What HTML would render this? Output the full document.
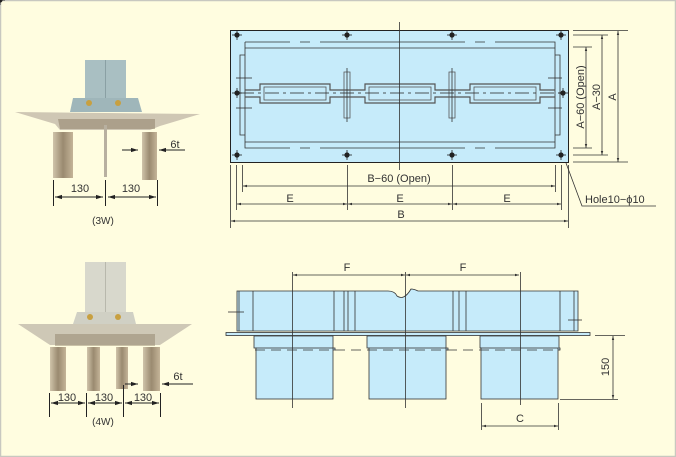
<!DOCTYPE html>
<html><head><meta charset="utf-8"><style>
html,body{margin:0;padding:0;background:#fffde0}
svg{display:block}
text{font-family:"Liberation Sans",sans-serif;fill:#333}
</style></head><body>
<svg width="676" height="457" viewBox="0 0 676 457" xmlns="http://www.w3.org/2000/svg">
<defs>
<marker id="a" viewBox="0 0 10 10" refX="10" refY="5" markerWidth="7" markerHeight="7" orient="auto-start-reverse"><path d="M0,2 L10,5 L0,8z" fill="#222"/></marker>
<marker id="s" viewBox="0 0 10 10" refX="10" refY="5" markerWidth="5" markerHeight="5" orient="auto-start-reverse"><path d="M0,2 L10,5 L0,8z" fill="#333"/></marker>
<linearGradient id="cu" x1="0" x2="1"><stop offset="0" stop-color="#d0c4aa"/><stop offset=".5" stop-color="#9a8a70"/><stop offset="1" stop-color="#c4b498"/></linearGradient>
</defs>
<rect x="0.5" y="0.5" width="675" height="456" fill="#fffde0" stroke="#c8c8c0" stroke-width="1.5"/>

<!-- 3W photo -->
<rect x="85" y="60" width="41" height="38" fill="#a9bfc2"/>
<line x1="105.5" y1="60" x2="105.5" y2="98" stroke="#8aa0a4"/>
<path d="M73,98 L138,98 L142,112 L70,112z" fill="#9fb6ba"/>
<circle cx="89" cy="103" r="3" fill="#c8a040"/><circle cx="118" cy="103" r="3" fill="#c8a040"/>
<path d="M15,112 L200,114 L160,126 L150,130 L60,130 L55,124z" fill="#cfc7b4"/>
<path d="M58,119 L155,119 L155,129 L60,129z" fill="#8a7a62" opacity=".5"/>
<rect x="53" y="132" width="20" height="46" fill="url(#cu)"/>
<rect x="142" y="132" width="15" height="48" fill="url(#cu)"/>
<rect x="104" y="125" width="3" height="52" fill="#b8b0a0"/>
<g stroke="#222" stroke-width="1" fill="none">
<line x1="53.5" y1="180" x2="53.5" y2="206"/><line x1="105.5" y1="180" x2="105.5" y2="206"/><line x1="157.5" y1="180" x2="157.5" y2="206"/>
<line x1="55" y1="197" x2="103" y2="197" marker-start="url(#a)" marker-end="url(#a)"/>
<line x1="108" y1="197" x2="156" y2="197" marker-start="url(#a)" marker-end="url(#a)"/>
<line x1="122" y1="150" x2="138" y2="150" marker-end="url(#a)"/>
<line x1="185" y1="150" x2="159" y2="150" marker-end="url(#a)"/>
</g>
<text x="80" y="192" font-size="11" text-anchor="middle">130</text>
<text x="131" y="192" font-size="11" text-anchor="middle">130</text>
<text x="175" y="148" font-size="11" text-anchor="middle">6t</text>
<text x="103" y="224" font-size="10" text-anchor="middle">(3W)</text>

<!-- 4W photo -->
<rect x="85" y="262" width="41" height="52" fill="#d8d8cc"/>
<line x1="105.5" y1="262" x2="105.5" y2="314" stroke="#b8b8ac"/>
<path d="M77,312 L133,312 L136,324 L73,324z" fill="#d0d0c4"/>
<circle cx="90" cy="317" r="3" fill="#c8a040"/><circle cx="118" cy="317" r="3" fill="#c8a040"/>
<path d="M18,324 L192,324 L160,345 L50,345z" fill="#cec8b6"/>
<path d="M55,334 L155,334 L155,346 L55,346z" fill="#8a7a62" opacity=".45"/>
<rect x="50" y="347" width="16" height="44" fill="url(#cu)"/>
<rect x="87" y="347" width="13" height="44" fill="url(#cu)"/>
<rect x="116" y="347" width="12" height="42" fill="url(#cu)"/>
<rect x="143" y="347" width="17" height="44" fill="url(#cu)"/>
<g stroke="#222" stroke-width="1" fill="none">
<line x1="49.5" y1="393" x2="49.5" y2="417"/><line x1="86.5" y1="393" x2="86.5" y2="417"/><line x1="123.5" y1="385" x2="123.5" y2="417"/><line x1="160.5" y1="393" x2="160.5" y2="417"/>
<line x1="51" y1="403" x2="85" y2="403" marker-start="url(#a)" marker-end="url(#a)"/>
<line x1="88" y1="403" x2="122" y2="403" marker-start="url(#a)" marker-end="url(#a)"/>
<line x1="125" y1="403" x2="159" y2="403" marker-start="url(#a)" marker-end="url(#a)"/>
<line x1="125" y1="384" x2="138" y2="384" marker-end="url(#a)"/>
<line x1="193" y1="384" x2="162" y2="384" marker-end="url(#a)"/>
</g>
<text x="67" y="401" font-size="11" text-anchor="middle">130</text>
<text x="104" y="401" font-size="11" text-anchor="middle">130</text>
<text x="143" y="401" font-size="11" text-anchor="middle">130</text>
<text x="178" y="380" font-size="11" text-anchor="middle">6t</text>
<text x="103" y="425" font-size="10" text-anchor="middle">(4W)</text>

<!-- top right plan -->
<rect x="230.5" y="30.5" width="338" height="132" fill="#c6ebfa" stroke="#222"/>
<g stroke="#333" stroke-width="0.8" fill="none">
<path d="M245,42 H290 M300,42 H310 M320,42 H465 M475,42 H485 M495,42 H555 V148 H495 M485,148 H475 M465,148 H320 M310,148 H300 M290,148 H245 V42"/>
<line x1="245" y1="48" x2="555" y2="48"/><line x1="245" y1="142" x2="555" y2="142"/>
<path d="M245,55 h-5 v80 h5 M555,55 h5 v80 h-5"/>
<path d="M245,90 H260 V84 H330 V90 H365 V84 H435 V90 H470 V84 H540 V90 H555 M245,97 H260 V103 H330 V97 H365 V103 H435 V97 H470 V103 H540 V97 H555" stroke="#555" stroke-width="1.2"/>
<rect x="264" y="87" width="62" height="13" stroke="#555"/>
<rect x="369" y="87" width="62" height="13" stroke="#555"/>
<rect x="474" y="87" width="62" height="13" stroke="#555"/>
<path d="M344,72 h6 v46 h-6z M449,72 h6 v46 h-6z" stroke="#555"/>
<line x1="347" y1="68" x2="347" y2="122"/><line x1="452" y1="68" x2="452" y2="122"/>
<line x1="240" y1="93" x2="560" y2="93" stroke-dasharray="14,4,3,4" stroke="#222"/>
<line x1="236" y1="78" x2="252" y2="78"/><line x1="236" y1="108" x2="252" y2="108"/>
<line x1="548" y1="78" x2="562" y2="78"/><line x1="548" y1="108" x2="562" y2="108"/>
</g>
<line x1="399.5" y1="22" x2="399.5" y2="170" stroke="#333" stroke-width="0.8"/>
<g fill="#222" stroke="#222" stroke-width="0.8">
<g id="h"><circle r="2.2"/><line x1="-5" x2="5"/><line y1="-5" y2="5"/></g>
<use href="#h" x="237" y="35"/><use href="#h" x="347" y="35"/><use href="#h" x="452" y="35"/><use href="#h" x="561" y="35"/>
<use href="#h" x="237" y="155"/><use href="#h" x="347" y="155"/><use href="#h" x="452" y="155"/><use href="#h" x="561" y="155"/>
<use href="#h" x="237" y="93"/><use href="#h" x="563" y="93"/>
</g>
<g stroke="#333" stroke-width="0.8" fill="none">
<line x1="573" y1="30.5" x2="628" y2="30.5"/><line x1="573" y1="35" x2="608" y2="35"/><line x1="573" y1="47" x2="592" y2="47"/>
<line x1="573" y1="148" x2="592" y2="148"/><line x1="573" y1="155" x2="608" y2="155"/><line x1="573" y1="162" x2="628" y2="162"/>
<line x1="586" y1="47" x2="586" y2="148" marker-start="url(#s)" marker-end="url(#s)"/>
<line x1="602" y1="35" x2="602" y2="155" marker-start="url(#s)" marker-end="url(#s)"/>
<line x1="618" y1="31" x2="618" y2="162" marker-start="url(#s)" marker-end="url(#s)"/>
<line x1="230.5" y1="165" x2="230.5" y2="228"/><line x1="236.5" y1="165" x2="236.5" y2="210"/><line x1="242.5" y1="165" x2="242.5" y2="192"/>
<line x1="347.5" y1="165" x2="347.5" y2="210"/><line x1="452.5" y1="165" x2="452.5" y2="210"/>
<line x1="555.5" y1="165" x2="555.5" y2="192"/><line x1="561.5" y1="165" x2="561.5" y2="210"/><line x1="568.5" y1="165" x2="568.5" y2="228"/>
<line x1="243" y1="186" x2="555" y2="186" marker-start="url(#s)" marker-end="url(#s)"/>
<line x1="237" y1="204" x2="347" y2="204" marker-start="url(#s)" marker-end="url(#s)"/>
<line x1="348" y1="204" x2="452" y2="204" marker-start="url(#s)" marker-end="url(#s)"/>
<line x1="453" y1="204" x2="561" y2="204" marker-start="url(#s)" marker-end="url(#s)"/>
<line x1="231" y1="221" x2="568" y2="221" marker-start="url(#s)" marker-end="url(#s)"/>
<path d="M566,163 L582,206 H656"/>
</g>
<text x="399" y="182" font-size="11" text-anchor="middle">B−60 (Open)</text>
<text x="290" y="202" font-size="11" text-anchor="middle" fill="#555">E</text>
<text x="400" y="202" font-size="11" text-anchor="middle" fill="#555">E</text>
<text x="507" y="202" font-size="11" text-anchor="middle" fill="#555">E</text>
<text x="401" y="218" font-size="11" text-anchor="middle">B</text>
<text x="585" y="203" font-size="11">Hole10−ϕ10</text>
<text transform="translate(584,97) rotate(-90)" font-size="11" text-anchor="middle">A−60 (Open)</text>
<text transform="translate(600,97) rotate(-90)" font-size="11" text-anchor="middle">A−30</text>
<text transform="translate(616,97) rotate(-90)" font-size="11" text-anchor="middle">A</text>

<!-- bottom right elevation -->
<path d="M237,291 H388 Q395,291 397,296 Q404,301 411,289 Q414,289 418,291 H578 V331 H237z" fill="#c6ebfa" stroke="#333" stroke-width="0.8"/>
<rect x="226" y="332.5" width="364" height="3" fill="#c6ebfa" stroke="#333" stroke-width="0.8"/>
<g fill="#c6ebfa" stroke="#333" stroke-width="0.8">
<path d="M254,336 H333 V348 H335 V350 H256 V348 H254z"/>
<rect x="256" y="348" width="77" height="51"/>
<path d="M367,336 H446 V348 H448 V350 H369 V348 H367z"/>
<rect x="369" y="348" width="77" height="51"/>
<path d="M480,336 H559 V348 H560 V350 H481 V348 H480z"/>
<rect x="481" y="348" width="77" height="51"/>
</g>
<g stroke="#333" stroke-width="0.8" fill="none">
<line x1="239" y1="291" x2="239" y2="331"/><line x1="253" y1="291" x2="253" y2="331"/><line x1="334" y1="291" x2="334" y2="331"/>
<line x1="344" y1="291" x2="344" y2="331"/><line x1="348" y1="291" x2="348" y2="331"/><line x1="355" y1="291" x2="355" y2="331"/>
<line x1="453" y1="291" x2="453" y2="331"/><line x1="459" y1="291" x2="459" y2="331"/><line x1="466" y1="291" x2="466" y2="331"/>
<line x1="560" y1="291" x2="560" y2="331"/><line x1="574" y1="291" x2="574" y2="331"/>
<line x1="228" y1="312" x2="244" y2="312"/><line x1="568" y1="320" x2="582" y2="320"/>
<line x1="255" y1="350" x2="560" y2="350" stroke-dasharray="10,6"/>
<line x1="292.5" y1="272" x2="292.5" y2="408"/><line x1="405.5" y1="272" x2="405.5" y2="408"/><line x1="520.5" y1="272" x2="520.5" y2="405"/>
<line x1="293" y1="275" x2="405" y2="275" marker-start="url(#s)" marker-end="url(#s)"/>
<line x1="406" y1="275" x2="519" y2="275" marker-start="url(#s)" marker-end="url(#s)"/>
<line x1="595" y1="335.5" x2="625" y2="335.5"/><line x1="560" y1="399.5" x2="618" y2="399.5"/>
<line x1="613" y1="336" x2="613" y2="399" marker-start="url(#s)" marker-end="url(#s)"/>
<line x1="481.5" y1="403" x2="481.5" y2="430"/><line x1="558.5" y1="403" x2="558.5" y2="430"/>
<line x1="482" y1="426" x2="558" y2="426" marker-start="url(#s)" marker-end="url(#s)"/>
</g>
<text x="347" y="271" font-size="11" text-anchor="middle" fill="#555">F</text>
<text x="463" y="271" font-size="11" text-anchor="middle" fill="#555">F</text>
<text x="520" y="422" font-size="11" text-anchor="middle">C</text>
<text transform="translate(609,367) rotate(-90)" font-size="11" text-anchor="middle">150</text>
</svg>
</body></html>
